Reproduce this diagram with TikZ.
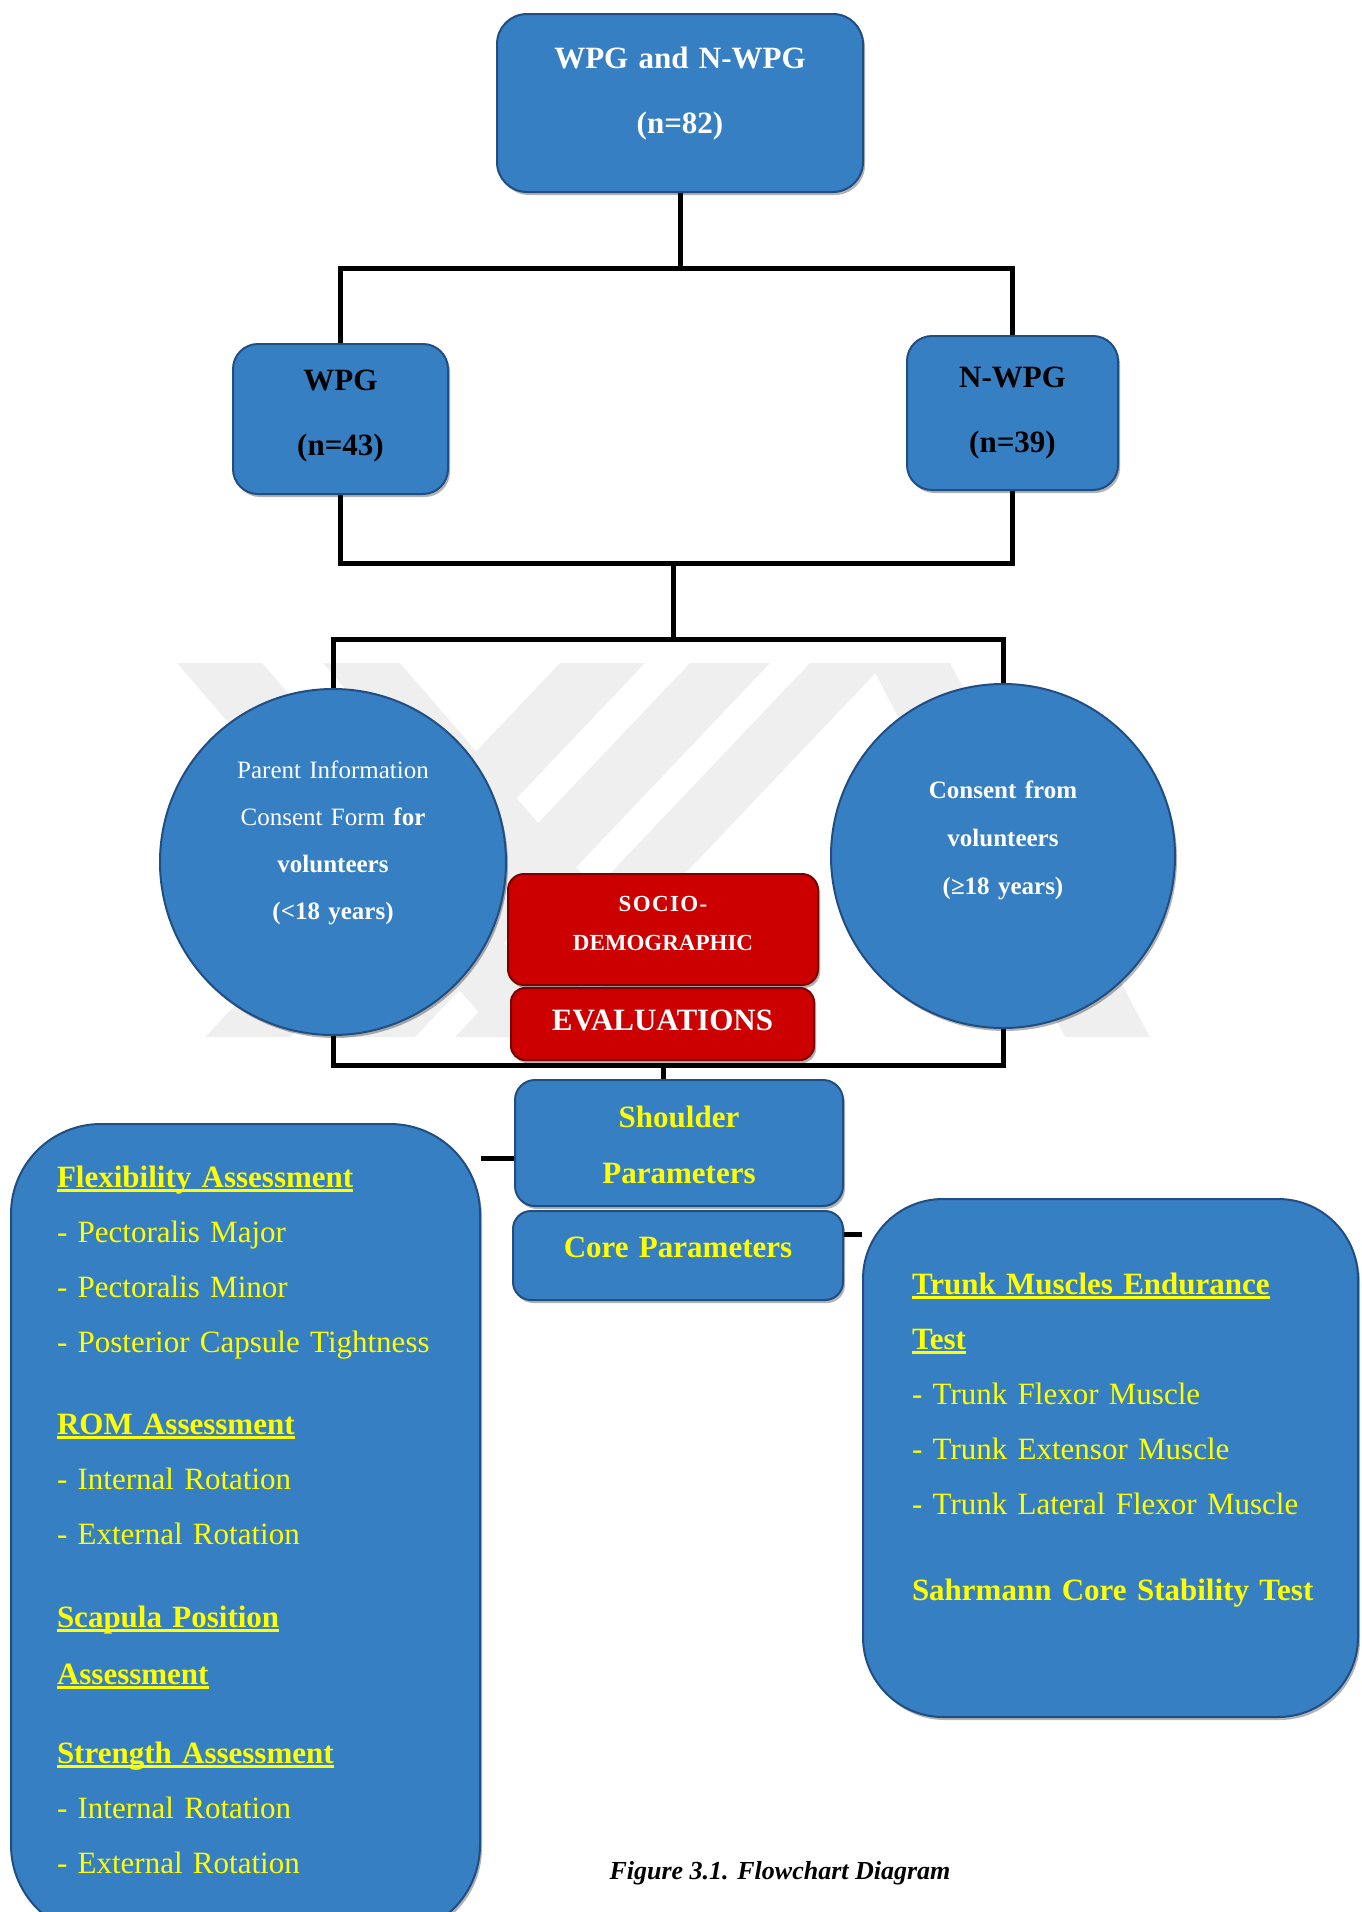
\documentclass[tikz,border=0pt]{standalone}
\usepackage{fontspec}
\setmainfont{Liberation Serif}
\usetikzlibrary{calc,shadows}
\definecolor{boxblue}{RGB}{55,127,195}
\definecolor{edgeblue}{RGB}{32,78,130}
\definecolor{boxred}{RGB}{204,0,0}
\definecolor{edgered}{RGB}{125,0,0}
\definecolor{txtyellow}{RGB}{255,255,0}
\definecolor{wmgray}{RGB}{239,239,239}
\pgfdeclarelayer{wm}\pgfdeclarelayer{bg}\pgfsetlayers{wm,bg,main}
\newcommand\hul[1]{\leavevmode\setbox0=\hbox{#1}\rlap{\rule[-5pt]{\wd0}{2.6pt}}\box0}
\newcommand\fs[2]{\fontsize{#1}{#2}\selectfont}
\begin{document}
\begin{tikzpicture}[x=1pt,y=-1pt,
  shade3d/.style={drop shadow={shadow xshift=2pt, shadow yshift=-3pt, opacity=0.3, fill=black}},
  bluebox/.style={shade3d, draw=edgeblue, line width=2pt, fill=boxblue, inner sep=0pt},
  bluecirc/.style={shade3d, circle, draw=edgeblue, line width=2pt, fill=boxblue, inner sep=0pt, text=white},
  redbox/.style={shade3d, draw=edgered, line width=2pt, fill=boxred, inner sep=0pt, rounded corners=16pt, text=white, align=center},
  conn/.style={line width=5pt, black, line join=miter}]
\useasboundingbox (0,0) rectangle (1362,1912);

% nodes
\node[bluebox, rounded corners=30pt, text width=366pt, align=center, font=\fs{31}{65}\bfseries, text=white,
  text height=54pt, text depth=124pt] (top) at (680,103) {WPG and N-WPG\\(n=82)};
\node[bluebox, rounded corners=25pt, text width=215pt, align=center, font=\fs{31}{65}\bfseries, text=black,
  text height=46pt, text depth=104pt] (wpg) at (340.5,419) {WPG\\(n=43)};
\node[bluebox, rounded corners=25pt, text width=211pt, align=center, font=\fs{31}{65}\bfseries, text=black,
  text height=51pt, text depth=103pt] (nwpg) at (1012.5,413) {N-WPG\\(n=39)};

\node[bluecirc, minimum size=346pt, text width=260pt, align=center, font=\fs{25}{47},
  text height=20pt, text depth=188pt] (cl) at (333,862)
  {Parent Information\\Consent Form \textbf{for}\\\textbf{volunteers}\\\textbf{(<18 years)}};
\node[bluecirc, minimum size=344pt, text width=260pt, align=center, font=\fs{25}{48}\bfseries,
  text height=20pt, text depth=136pt] (cr) at (1003,856)
  {Consent from\\volunteers\\(≥18 years)};

\node[redbox, text width=310pt, font=\fs{23}{39}\bfseries, text height=37pt, text depth=74pt] (socio) at (663,929.5)
  {{\addfontfeature{LetterSpace=6}SOCIO-}\\DEMOGRAPHIC};
\node[redbox, rounded corners=14pt, text width=303pt, font=\fs{31}{31}\bfseries, text height=42.6pt, text depth=29.4pt] (eval) at (662.5,1024)
  {EVALUATIONS};

\node[bluebox, rounded corners=20pt, text width=328pt, align=center, font=\fs{31}{56}\bfseries, text=txtyellow,
  text height=47pt, text depth=79pt] (sh) at (679,1143) {Shoulder\\Parameters};
\node[bluebox, rounded corners=18pt, text width=330pt, align=center, font=\fs{31}{56}\bfseries, text=txtyellow,
  text height=46pt, text depth=43pt] (core) at (678,1255.5) {Core Parameters};

\node[bluebox, rounded corners=90pt, text width=377pt, inner xsep=46pt, align=left, font=\fs{31}{55}, text=txtyellow,
  text height=63pt, text depth=748pt] (lb) at (245.5,1529.5)
  {\mbox{\hul{\textbf{Flexibility Assessment}}}\\
   \mbox{- Pectoralis Major}\\
   \mbox{- Pectoralis Minor}\\
   \mbox{- Posterior Capsule Tightness}\\[27pt]
   \mbox{\hul{\textbf{ROM Assessment}}}\\
   \mbox{- Internal Rotation}\\
   \mbox{- External Rotation}\\[28pt]
   \mbox{\hul{\textbf{Scapula Position}}}\\[2pt]
   \mbox{\hul{\textbf{Assessment}}}\\[24pt]
   \mbox{\hul{\textbf{Strength Assessment}}}\\
   \mbox{- Internal Rotation}\\
   \mbox{- External Rotation}};

\node[bluebox, rounded corners=80pt, text width=397pt, inner xsep=49pt, align=left, font=\fs{31}{55}, text=txtyellow,
  text height=95pt, text depth=423pt] (rb) at (1110.5,1458)
  {\mbox{\hul{\textbf{Trunk Muscles Endurance}}}\\
   \mbox{\hul{\textbf{Test}}}\\
   \mbox{- Trunk Flexor Muscle}\\
   \mbox{- Trunk Extensor Muscle}\\
   \mbox{- Trunk Lateral Flexor Muscle}\\[31pt]
   \mbox{\textbf{Sahrmann Core Stability Test}}};

\node[font=\fs{26}{30}\bfseries\itshape] (cap) at (780,1873) {Figure 3.1. Flowchart Diagram};

% junctions
\coordinate (j1) at (680,268);
\coordinate (j2) at (673,563);
\coordinate (j3) at (673,639);
\coordinate (j4) at (663,1065);
\coordinate (sL) at (515,1158);
\coordinate (cR) at (843,1234);

\begin{pgfonlayer}{bg}
\draw[conn] (top.south) -- (j1);
\draw[conn] (wpg.north) |- (j1) -| (nwpg.north);
\draw[conn] (wpg.south) |- (j2) -| (nwpg.south);
\draw[conn] (j2) -- (j3);
\draw[conn] (cl.north) |- (j3) -| (cr.north);
\draw[conn] (cl.south) |- (j4) -| (cr.south);
\draw[conn] (j4) -- (j4 |- sh.north);
\draw[conn] (lb.east |- sL) -- (sL);
\draw[conn] (cR) -- (rb.west |- cR);
\end{pgfonlayer}

\begin{pgfonlayer}{wm}
\fill[wmgray] (177,663) -- (262,663) -- (585,1037) -- (500,1037) -- cycle;
\fill[wmgray] (323,663) -- (400,663) -- (723,1037) -- (646,1037) -- cycle;
\fill[wmgray] (560,663) -- (645,663) -- (290,1037) -- (205,1037) -- cycle;
\fill[wmgray] (690,663) -- (770,663) -- (415,1037) -- (335,1037) -- cycle;
\fill[wmgray] (810,663) -- (885,663) -- (530,1037) -- (455,1037) -- cycle;
\fill[wmgray] (870,663) -- (950,663) -- (1150,1037) -- (1065,1037) -- cycle;
\end{pgfonlayer}
\end{tikzpicture}
\end{document}
